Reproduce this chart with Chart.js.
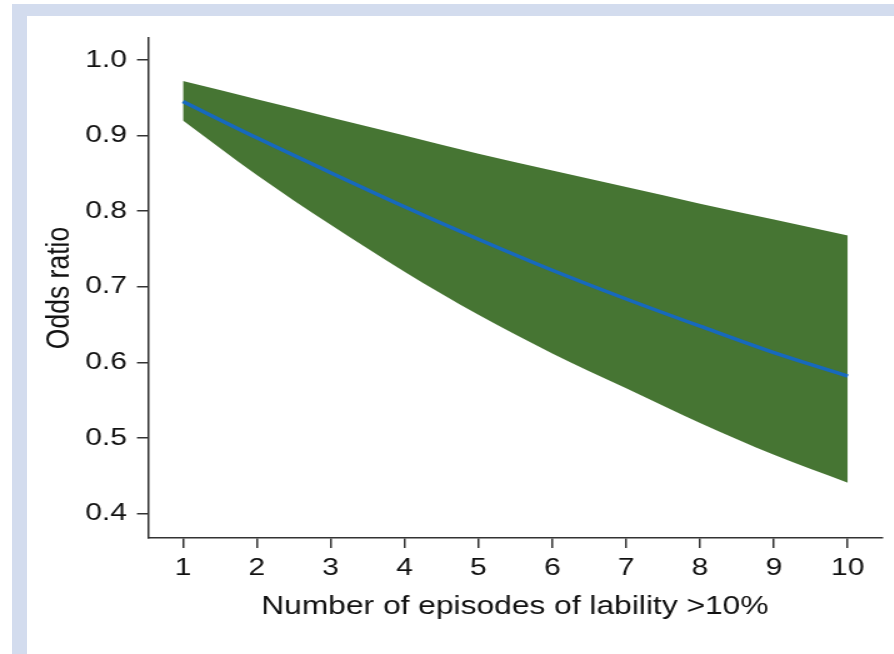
<!DOCTYPE html>
<html>
<head>
<meta charset="utf-8">
<title>Odds ratio by number of lability episodes</title>
<script src="https://cdn.jsdelivr.net/npm/chart.js@4"></script>
<style>
  body { margin: 0; background: #fff; }
  .wrap { position: relative; width: 894px; height: 654px; overflow: hidden; }
  .band-top { position: absolute; left: 12px; top: 4px; width: 882px; height: 12px; background: #d3dcee; }
  .band-left { position: absolute; left: 12px; top: 4px; width: 15px; height: 650px; background: #d3dcee; }
  /* the source figure is stretched sideways, so draw narrower and scale */
  #chart { position: absolute; left: 0; top: 0; transform: scaleX(1.25); transform-origin: 0 0; }
</style>
</head>
<body>
<div class="wrap">
  <div class="band-top"></div>
  <div class="band-left"></div>
  <canvas id="chart" width="715" height="654"></canvas>
</div>
<script>
const episodes = [1, 2, 3, 4, 5, 6, 7, 8, 9, 10];
const oddsRatio = [0.945, 0.897, 0.851, 0.806, 0.763, 0.722, 0.684, 0.648, 0.613, 0.582];
const upperCI = [0.972, 0.948, 0.924, 0.900, 0.876, 0.854, 0.832, 0.810, 0.789, 0.768];
const lowerCI = [0.920, 0.848, 0.782, 0.720, 0.663, 0.612, 0.566, 0.520, 0.478, 0.441];
const xTicks = [1, 2, 3, 4, 5, 6, 7, 8, 9, 10];
const yTicks = [0.4, 0.5, 0.6, 0.7, 0.8, 0.9, 1.0];

const toPoints = (ys) => episodes.map((x, i) => ({ x: x, y: ys[i] }));

const font = "'Liberation Sans', Arial, Helvetica, sans-serif";
const axisColor = "#333";
const textColor = "#111";

const ctx = document.getElementById("chart").getContext("2d");

new Chart(ctx, {
  type: "line",
  data: {
    datasets: [
      {
        // drawn on top of the band (lower order = drawn last)
        label: "Odds ratio",
        data: toPoints(oddsRatio),
        borderColor: "#1769bd",
        borderWidth: 3.5,
        pointRadius: 0,
        fill: false,
        order: 0,
        cubicInterpolationMode: "monotone",
      },
      {
        label: "Upper",
        data: toPoints(upperCI),
        borderWidth: 0,
        pointRadius: 0,
        fill: false,
        order: 1,
        cubicInterpolationMode: "monotone",
      },
      {
        label: "Lower",
        data: toPoints(lowerCI),
        borderWidth: 0,
        pointRadius: 0,
        backgroundColor: "#467533",
        fill: "-1",
        order: 1,
        cubicInterpolationMode: "monotone",
      },
    ],
  },
  options: {
    responsive: false,
    animation: false,
    events: [],
    layout: { padding: { top: 38, right: 9.6, left: 0, bottom: 0 } },
    plugins: { legend: { display: false }, tooltip: { enabled: false } },
    scales: {
      x: {
        type: "linear",
        min: 0.527,
        max: 10.46,
        afterBuildTicks: (scale) => {
          scale.ticks = xTicks.map((v) => ({ value: v }));
        },
        afterFit: (scale) => {
          scale.height = 116;
        },
        grid: { drawOnChartArea: false, tickLength: 10, color: axisColor, lineWidth: 1.5 },
        border: { display: true, color: axisColor, width: 1.5 },
        ticks: {
          color: textColor,
          padding: 6,
          font: { family: font, size: 24 },
          maxRotation: 0,
          callback: (v) => v,
        },
        title: {
          display: true,
          text: "Number of episodes of lability >10%",
          color: textColor,
          font: { family: font, size: 25.4 },
          padding: { top: 4, bottom: 32 },
        },
      },
      y: {
        min: 0.368,
        max: 1.029,
        afterBuildTicks: (scale) => {
          scale.ticks = yTicks.map((v) => ({ value: v }));
        },
        afterFit: (scale) => {
          scale.width = 118.4;
        },
        grid: { drawOnChartArea: false, tickLength: 8.8, color: axisColor, lineWidth: 1.5 },
        border: { display: true, color: axisColor, width: 1.5 },
        ticks: {
          color: textColor,
          padding: 8,
          font: { family: font, size: 24 },
          callback: (v) => Number(v).toFixed(1),
        },
        title: {
          display: true,
          text: "Odds ratio",
          color: textColor,
          font: { family: font, size: 26.5 },
          padding: { top: 32, bottom: 4 },
        },
      },
    },
  },
});
</script>
</body>
</html>
